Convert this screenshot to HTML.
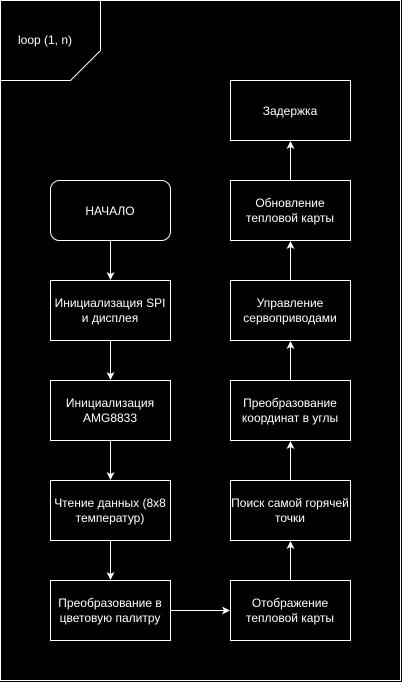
<!DOCTYPE html>
<html><head><meta charset="utf-8"><style>
html,body{margin:0;padding:0;background:#000;}
svg{display:block;}
text{font-family:"Liberation Sans",Arial,sans-serif;font-size:12px;fill:#fff;text-anchor:middle;}
</style></head><body>
<svg width="402" height="682" viewBox="0 0 402 682" xmlns="http://www.w3.org/2000/svg">
<defs><marker id="a" markerWidth="8" markerHeight="8" refX="7" refY="4" orient="auto" markerUnits="userSpaceOnUse"><path d="M0,0 L8,4 L0,8 L2,4 z" fill="#fff"/></marker></defs>
<g fill="none" stroke="#fff" stroke-width="1">
<rect x="0.5" y="0.5" width="400" height="680"/>
<path d="M0.5,80.5 H70.5 L100.5,50.5 V0.5"/>
<rect x="50.5" y="180.5" width="120" height="60" rx="9"/>
<rect x="50.5" y="280.5" width="120" height="60"/>
<rect x="50.5" y="380.5" width="120" height="60"/>
<rect x="50.5" y="480.5" width="120" height="60"/>
<rect x="50.5" y="580.5" width="120" height="60"/>
<rect x="230.5" y="580.5" width="120" height="60"/>
<rect x="230.5" y="480.5" width="120" height="60"/>
<rect x="230.5" y="380.5" width="120" height="60"/>
<rect x="230.5" y="280.5" width="120" height="60"/>
<rect x="230.5" y="180.5" width="120" height="60"/>
<rect x="230.5" y="80.5" width="120" height="60"/>
<path d="M110.5,240.5 V279" marker-end="url(#a)"/>
<path d="M110.5,340.5 V379" marker-end="url(#a)"/>
<path d="M110.5,440.5 V479" marker-end="url(#a)"/>
<path d="M110.5,540.5 V579" marker-end="url(#a)"/>
<path d="M170.5,610.5 H229" marker-end="url(#a)"/>
<path d="M290.5,580.5 V542" marker-end="url(#a)"/>
<path d="M290.5,480.5 V442" marker-end="url(#a)"/>
<path d="M290.5,380.5 V342" marker-end="url(#a)"/>
<path d="M290.5,280.5 V242" marker-end="url(#a)"/>
<path d="M290.5,180.5 V142" marker-end="url(#a)"/>
</g>
<text x="45" y="44">loop (1, n)</text>
<text x="110" y="215">НАЧАЛО</text>
<text x="110" y="307">Инициализация SPI</text><text x="110" y="322">и дисплея</text>
<text x="110" y="407">Инициализация</text><text x="110" y="422">AMG8833</text>
<text x="110" y="507">Чтение данных (8x8</text><text x="110" y="522">температур)</text>
<text x="110" y="607">Преобразование в</text><text x="110" y="622">цветовую палитру</text>
<text x="290" y="607">Отображение</text><text x="290" y="622">тепловой карты</text>
<text x="290" y="507">Поиск самой горячей</text><text x="290" y="522">точки</text>
<text x="290" y="407">Преобразование</text><text x="290" y="422">координат в углы</text>
<text x="290" y="307">Управление</text><text x="290" y="322">сервоприводами</text>
<text x="290" y="207">Обновление</text><text x="290" y="222">тепловой карты</text>
<text x="290" y="115">Задержка</text>
</svg>
</body></html>
